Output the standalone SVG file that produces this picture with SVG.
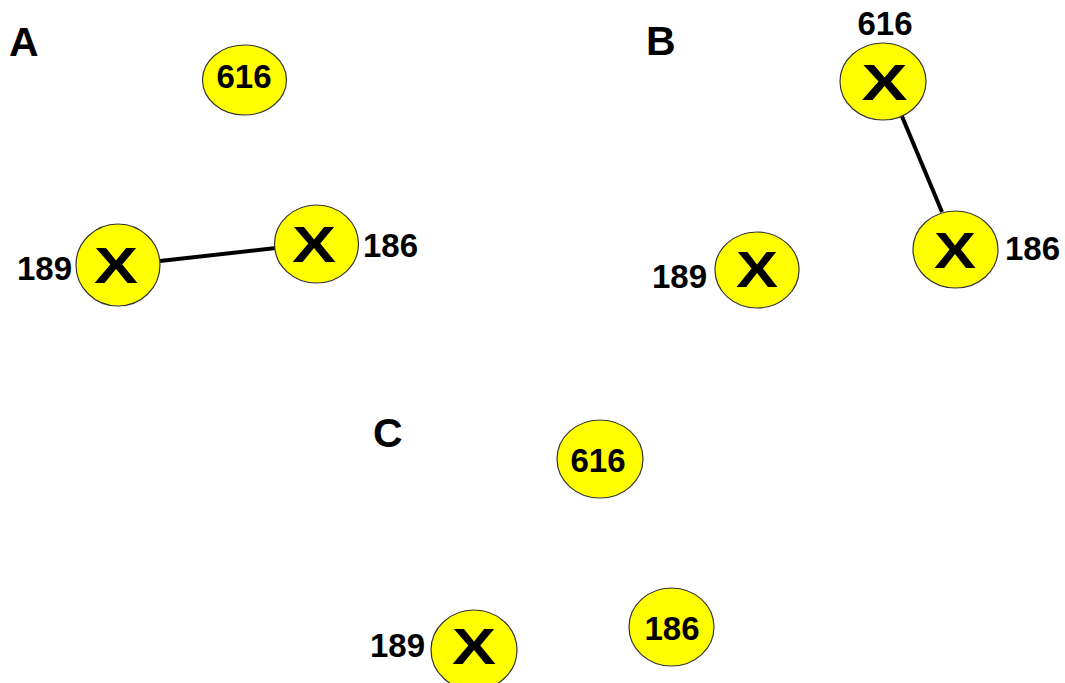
<svg xmlns="http://www.w3.org/2000/svg" width="1065" height="683" viewBox="0 0 1065 683">
<style>
.n{fill:#ffff00;stroke:#333;stroke-width:1.2}
.t{font-family:"Liberation Sans",Arial,sans-serif;font-weight:bold;font-size:33px;fill:#000}
.x{font-family:"Liberation Sans",Arial,sans-serif;font-weight:bold;font-size:50px;fill:#000;text-anchor:middle}
.p{font-family:"Liberation Sans",Arial,sans-serif;font-weight:bold;font-size:41px;fill:#000}
.e{stroke:#000;stroke-width:4;fill:none}
</style>
<rect width="1065" height="683" fill="#fff"/>
<text class="p" x="9" y="56">A</text>
<text class="p" x="646" y="55">B</text>
<text class="p" x="373" y="447">C</text>
<g id="connectors">
<line class="e" x1="160" y1="261" x2="276" y2="248"/>
<line class="e" x1="901" y1="114" x2="942" y2="212"/>
</g>
<g id="A616">
<ellipse class="n" cx="244.5" cy="80" rx="42" ry="35"/>
<text class="t" x="244" y="88" text-anchor="middle">616</text>
</g>
<g id="A189">
<ellipse class="n" cx="118" cy="265" rx="42" ry="41"/>
<text class="x" x="116" y="283" textLength="44" lengthAdjust="spacingAndGlyphs">X</text>
<text class="t" x="72" y="280" text-anchor="end">189</text>
</g>
<g id="A186">
<ellipse class="n" cx="316.5" cy="244" rx="42" ry="39"/>
<text class="x" x="314" y="262" textLength="44" lengthAdjust="spacingAndGlyphs">X</text>
<text class="t" x="363" y="257">186</text>
</g>
<g id="B616">
<ellipse class="n" cx="883" cy="81.5" rx="43" ry="38.5"/>
<text class="x" x="884.5" y="100" textLength="46" lengthAdjust="spacingAndGlyphs">X</text>
<text class="t" x="885" y="35" text-anchor="middle">616</text>
</g>
<g id="B189">
<ellipse class="n" cx="757" cy="270" rx="42" ry="38"/>
<text class="x" x="757" y="287" textLength="42" lengthAdjust="spacingAndGlyphs">X</text>
<text class="t" x="707" y="288" text-anchor="end">189</text>
</g>
<g id="B186">
<ellipse class="n" cx="955.5" cy="249.5" rx="42.5" ry="38.5"/>
<text class="x" x="955" y="268" textLength="42" lengthAdjust="spacingAndGlyphs">X</text>
<text class="t" x="1005" y="260">186</text>
</g>
<g id="C616">
<ellipse class="n" cx="600" cy="459" rx="43" ry="39"/>
<text class="t" x="598" y="472" text-anchor="middle">616</text>
</g>
<g id="C186">
<ellipse class="n" cx="671.5" cy="627" rx="42.5" ry="39"/>
<text class="t" x="672" y="640" text-anchor="middle">186</text>
</g>
<g id="C189">
<ellipse class="n" cx="474" cy="650" rx="43" ry="40"/>
<text class="x" x="474" y="664" textLength="44" lengthAdjust="spacingAndGlyphs">X</text>
<text class="t" x="425" y="657" text-anchor="end">189</text>
</g>
</svg>
